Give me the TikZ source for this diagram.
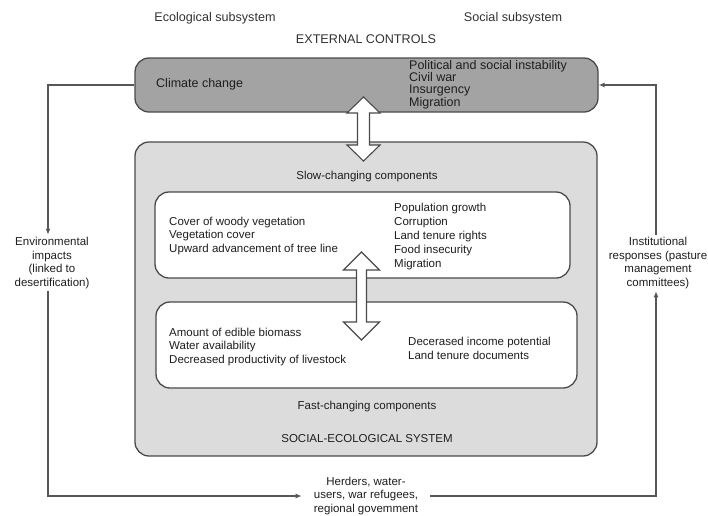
\documentclass[tikz,border=0pt]{standalone}
\usepackage{fontspec}
\setmainfont{Liberation Sans}
\usetikzlibrary{arrows.meta}
\definecolor{edgegray}{HTML}{4A4A4A}
\definecolor{linegray}{HTML}{575757}
\definecolor{ctrlfill}{HTML}{A3A3A3}
\definecolor{sesfill}{HTML}{DCDCDC}
\definecolor{inktext}{HTML}{1E1E1E}
\tikzset{
  txt/.style={font=\fontsize{11.5}{13.8}\selectfont, text=inktext, inner sep=0pt},
  bigtxt/.style={font=\fontsize{12.5}{12.4}\selectfont, text=inktext, inner sep=0pt},
  headtxt/.style={font=\fontsize{12.6}{14}\selectfont, text=black!80, inner sep=0pt},
  panel/.style={draw=edgegray, line width=1.3pt, rounded corners=14pt, inner sep=0pt},
  feedback/.style={draw=linegray, line width=1.3pt},
  tip/.style={-{Latex[length=6pt,width=5pt]}},
  blockarrow/.style={draw=edgegray, line width=1.1pt, fill=white, line join=miter},
  sidetxt/.style={txt, align=center, inner sep=2pt}
}
\begin{document}
\begin{tikzpicture}[x=1pt, y=-1pt]
\useasboundingbox[fill=white] (0,0) rectangle (708,515);

% headings
\node[headtxt] (ecohead) at (215,18) {Ecological subsystem};
\node[headtxt] (sochead) at (513,18) {Social subsystem};
\node[headtxt] (exthead) at (366,39) {EXTERNAL CONTROLS};

% external controls panel
\node[panel, fill=ctrlfill, minimum width=463pt, minimum height=54pt] (ext) at (366.5,85) {};
\node[bigtxt, anchor=west] (climate) at (156,84) {Climate change};
\node[bigtxt, anchor=west, align=left] (unrest) at (409,84.5)
  {Political and social instability\\Civil war\\Insurgency\\Migration};

% social-ecological system panel
\node[panel, fill=sesfill, minimum width=462pt, minimum height=314pt] (ses) at (366,299) {};
\node[txt] (slowlbl) at (367,177) {Slow-changing components};
\node[txt] (fastlbl) at (367,407) {Fast-changing components};
\node[txt] (seslbl) at (367,439) {SOCIAL-ECOLOGICAL SYSTEM};

% slow-changing components
\node[panel, fill=white, minimum width=415pt, minimum height=86pt] (slow) at (362.5,235) {};
\node[txt, anchor=west, align=left] (slowleft) at (169,236)
  {Cover of woody vegetation\\Vegetation cover\\Upward advancement of tree line};
\node[txt, anchor=west, align=left] (slowright) at (394,236.5)
  {Population growth\\Corruption\\Land tenure rights\\Food insecurity\\Migration};

% fast-changing components
\node[panel, fill=white, minimum width=421pt, minimum height=86pt] (fast) at (366.5,345) {};
\node[txt, anchor=west, align=left] (fastleft) at (169,347)
  {Amount of edible biomass\\Water availability\\Decreased productivity of livestock};
\node[txt, anchor=west, align=left] (fastright) at (408,348)
  {Decerased income potential\\Land tenure documents};

% two-way exchanges between levels
\draw[blockarrow] (363.5,97) -- (380,113) -- (369.5,113) -- (369.5,145) -- (380,145)
  -- (363.5,161) -- (347,145) -- (357.5,145) -- (357.5,113) -- (347,113) -- cycle;
\draw[blockarrow] (361.5,252) -- (379.5,270) -- (366.5,270) -- (366.5,322) -- (379.5,322)
  -- (361.5,340) -- (343.5,322) -- (356.5,322) -- (356.5,270) -- (343.5,270) -- cycle;

% feedback loop labels
\node[sidetxt] (envimp) at (52,263) {Environmental\\impacts\\(linked to\\desertification)};
\node[sidetxt] (instresp) at (658,263) {Institutional\\responses (pasture\\management\\committees)};
\node[txt, align=center, inner xsep=12pt] (actors) at (366,496)
  {Herders, water-\\users, war refugees,\\regional govemment};

% loop corners
\coordinate (lefttop) at (48,85);
\coordinate (leftbot) at (48,496);
\coordinate (rightbot) at (656,496);
\coordinate (righttop) at (656,85);

% feedback loop
\draw[feedback, tip] (ext.west) -- (lefttop) -- (lefttop |- envimp.north);
\draw[feedback, tip] (leftbot |- envimp.south) -- (leftbot) -- (actors.west);
\draw[feedback, tip] (actors.east) -- (rightbot) -- (rightbot |- instresp.south);
\draw[feedback, tip] (righttop |- instresp.north) -- (righttop) -- (ext.east);
\end{tikzpicture}
\end{document}
